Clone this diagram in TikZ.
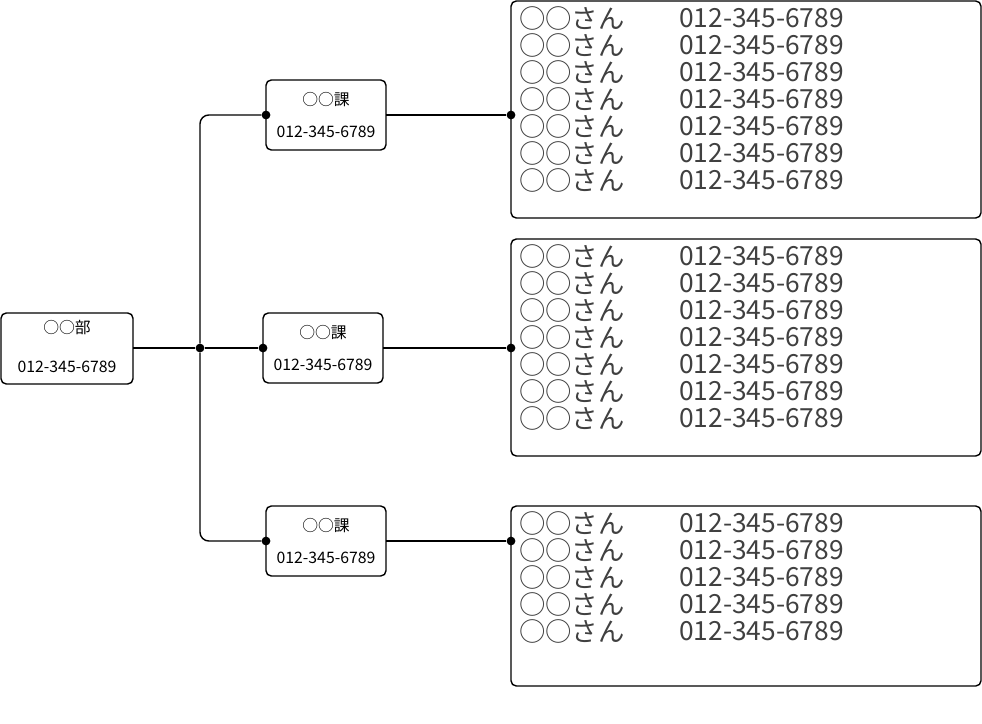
\documentclass[tikz,border=0pt]{standalone}
\usepackage{fontspec}
\newfontfamily\cjk{Noto Sans CJK JP}
\setmainfont{Liberation Sans}
\tikzset{
  unit/.style={draw,rounded corners=3pt,thick,inner sep=0pt},
  link/.style={thick,rounded corners=5pt},
  dot/.style={circle,fill=black,inner sep=0pt,minimum size=5pt},
  small/.style={font=\cjk\fontsize{9}{10}\selectfont},
  big/.style={font=\cjk\fontsize{15}{16}\selectfont\color{black!75},anchor=west},
}
\begin{document}
\begin{tikzpicture}[x=0.02cm,y=-0.02cm]
\useasboundingbox (0,0) rectangle (982,723);
% department
\draw[unit] (1,313) rectangle (133,384);
\node[small] (dname) at (67,328) {○○部};
\node[small] (dnum) at (67,367) {012-345-6789};
\coordinate (dout) at (133,348);
\node[dot] (hub) at (200,348) {};
% sections
\foreach \i/\x/\y in {1/266/115,2/263/348,3/266/541}{
  \draw[unit] (\x,\y-35) rectangle (\x+120,\y+35);
  \node[small] (s\i) at (\x+60,\y-15) {○○課};
  \node[small] (n\i) at (\x+60,\y+17) {012-345-6789};
  \node[dot] (sin\i) at (\x,\y) {};
  \coordinate (sout\i) at (\x+120,\y);
  \node[dot] (min\i) at (511,\y) {};
}
% member lists
\draw[unit] (511,1) rectangle (981,218);
\draw[unit] (511,239) rectangle (981,456);
\draw[unit] (511,506) rectangle (981,686);
\foreach \y/\n in {18/7,256/7,523/5}{
  \foreach \k in {1,...,\n}{
    \node[big] at (513,\y+27*\k-27) {○○さん};
    \node[big] at (673,\y+27*\k-27) {012-345-6789};
  }
}
% connectors
\draw[thick] (dout) -- (hub);
\draw[link] (sin1) -| (hub) |- (sin3);
\draw[thick] (hub) -- (sin2);
\foreach \i in {1,2,3}{\draw[thick] (sout\i) -- (min\i);}
\end{tikzpicture}
\end{document}
